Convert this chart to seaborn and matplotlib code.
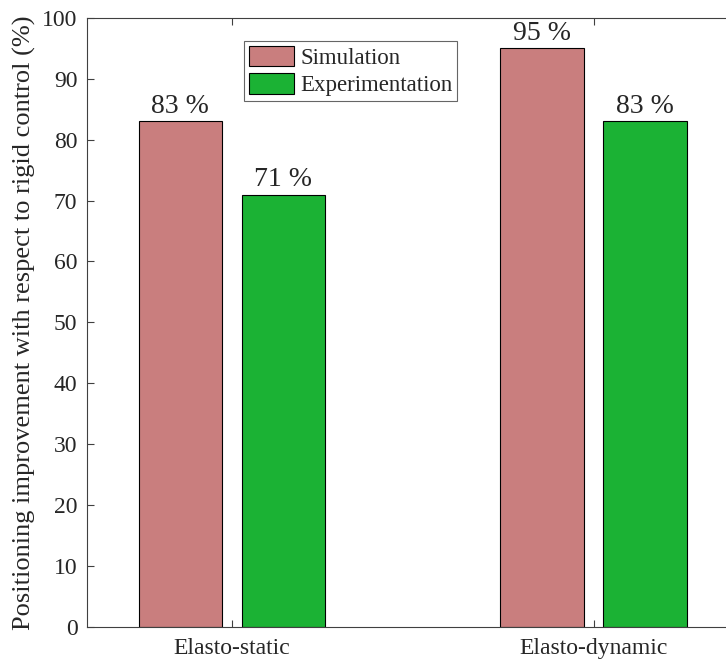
import matplotlib
matplotlib.use("Agg")
import matplotlib.pyplot as plt
import pandas as pd
import seaborn as sns

# ── Data ──────────────────────────────────────────────────────────────────────
categories = ["Elasto-static", "Elasto-dynamic"]
methods    = ["Simulation", "Experimentation"]
simulation      = [83, 95]
experimentation = [71, 83]

COLORS = ["#C97E7E", "#1BB234"]

df = pd.DataFrame({
    "Case":   categories * 2,
    "Method": [methods[0]] * 2 + [methods[1]] * 2,
    "Value":  simulation + experimentation,
})

sns.set_style("white")
plt.rcParams["font.family"] = ["Liberation Serif", "DejaVu Serif"]

fig = plt.figure(figsize=(7.26, 6.64), dpi=100)
ax = fig.add_axes([0.120, 0.056, 0.882, 0.917])

sns.barplot(
    data=df, x="Case", y="Value", hue="Method", order=categories,
    hue_order=methods, palette=COLORS, width=0.57, gap=0.19,
    edgecolor="black", linewidth=0.8, saturation=1, ax=ax,
)

# value labels above each bar
for container in ax.containers:
    ax.bar_label(container, labels=[f"{v:.0f} %" for v in container.datavalues],
                 padding=2, fontsize=20)

ax.set_xlim(-0.40, 1.37)
ax.set_ylim(0, 100)
ax.set_yticks(range(0, 101, 10))
ax.set_xlabel("")
ax.set_ylabel("Positioning improvement with respect to rigid control (%)",
              fontsize=19, labelpad=4)
ax.tick_params(axis="both", labelsize=17, direction="in", length=5,
               color="#404040", top=True, left=True, bottom=True)
ax.tick_params(axis="y", pad=7)
ax.tick_params(axis="x", pad=8)
for side in ["left", "bottom", "top"]:
    ax.spines[side].set_color("#404040")
    ax.spines[side].set_linewidth(0.8)
ax.spines["right"].set_visible(False)

leg = ax.legend(loc="upper left", bbox_to_anchor=(0.245, 0.962), fontsize=16.5,
                frameon=True, fancybox=False, edgecolor="#404040",
                borderpad=0.2, handlelength=2.0, handleheight=1.0,
                handletextpad=0.25, labelspacing=0.2, borderaxespad=0)
leg.get_frame().set_linewidth(0.8)

fig.savefig("out.png", dpi=100)
plt.close(fig)
